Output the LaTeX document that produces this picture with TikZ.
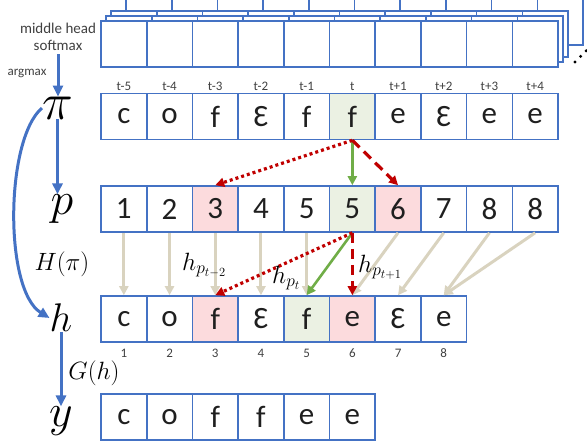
\RequirePackage{fix-cm}
\documentclass[tikz,border=0pt]{standalone}
\usepackage{amsmath}
\usepackage{fontspec}
\setmainfont{Carlito}
\usepackage{tikz}
\usetikzlibrary{arrows.meta}
\definecolor{boxblue}{HTML}{4472C4}
\definecolor{agreen}{HTML}{70AD47}
\definecolor{ared}{HTML}{C00000}
\definecolor{atan}{HTML}{D9D3BF}
\definecolor{pinkbg}{HTML}{FCDBDD}
\definecolor{greenbg}{HTML}{EBF1E3}
\definecolor{gtext}{HTML}{404040}
\definecolor{ctext}{HTML}{1F1F1F}
\tikzset{
  cell/.style={draw=boxblue, line width=1.6pt, minimum width=45.7pt, minimum height=46pt,
    inner sep=0pt, text=ctext, font=\fontsize{31}{31}\selectfont},
  cellpink/.style={cell, fill=pinkbg},
  cellgreen/.style={cell, fill=greenbg},
  layer/.style={draw=boxblue, line width=1.6pt, fill=white},
  tlab/.style={text=gtext, font=\fontsize{13}{13}\selectfont},
  note/.style={text=gtext, font=\fontsize{15}{17}\selectfont, align=center},
  sym/.style={inner sep=0pt},
  mlab/.style={inner sep=0pt, font=\fontsize{25}{25}\selectfont},
  tip/.style={-{Triangle[length=9pt,width=9pt]}},
  flow/.style={draw=boxblue, line width=3pt, -{Triangle[length=11pt,width=10pt]}},
  keep/.style={draw=agreen, line width=2.6pt, tip},
  prev/.style={draw=ared, line width=3.2pt, dash pattern=on 3pt off 3pt, tip},
  next/.style={draw=ared, line width=3.2pt, dash pattern=on 10pt off 6pt, tip},
  copy/.style={draw=atan, line width=3pt, tip},
}
\begin{document}
\begin{tikzpicture}[x=1pt,y=-1pt]
  \useasboundingbox (0,0) rectangle (587,444);
  \clip (0,0) rectangle (587,444);
  \def\w{45.7}
  \def\xo{101}

  % stacked softmax heads
  \foreach \dx/\dy in {25/-22,10/-10,5/-5}
    \foreach \i in {0,...,9}
      \draw[layer] ({\xo+\dx+\i*\w},{21+\dy}) rectangle ({\xo+\dx+(\i+1)*\w},{67+\dy});
  \foreach \i in {1,...,10}
    \node[cell, fill=white] (sm\i) at ({\xo+(\i-0.5)*\w},44) {};
  \foreach \d in {0,1,2}
    \fill ({575+5.6*\d},{62-5.6*\d}) circle (1.7pt);

  \node[note] (head) at (58,37) {middle head\\softmax};
  \node[tlab] (amax) at (27,73) {argmax};

  % rows
  \foreach \s/\st/\t [count=\i] in {c/cell/t-5, o/cell/t-4, f/cell/t-3, Ɛ/cell/t-2, f/cell/t-1,
      f/cellgreen/t, e/cell/t+1, Ɛ/cell/t+2, e/cell/t+3, e/cell/t+4} {
    \node[\st] (pi\i) at ({\xo+(\i-0.5)*\w},116.5) {\s};
    \node[tlab] at ({\xo+(\i-0.5)*\w},86) {\t};
  }
  \foreach \s/\st [count=\i] in {1/cell, 2/cell, 3/cellpink, 4/cell, 5/cell,
      5/cellgreen, 6/cellpink, 7/cell, 8/cell, 8/cell}
    \node[\st] (p\i) at ({\xo+(\i-0.5)*\w},209) {\s};
  \foreach \s/\st [count=\i] in {c/cell, o/cell, f/cellpink, Ɛ/cell, f/cellgreen,
      e/cellpink, Ɛ/cell, e/cell} {
    \node[\st] (h\i) at ({\xo+(\i-0.5)*\w},319) {\s};
    \node[tlab] at ({\xo+(\i-0.5)*\w},353) {\i};
  }
  \foreach \s [count=\i] in {c,o,f,f,e,e}
    \node[cell] (y\i) at ({\xo+(\i-0.5)*\w},417) {\s};

  % left column
  \node[sym, font=\fontsize{52}{52}\selectfont] (pisym) at (57.5,108) {$\pi$};
  \node[sym, font=\fontsize{46}{46}\selectfont] (psym) at (62,209) {$p$};
  \node[sym, font=\fontsize{40}{40}\selectfont] (hsym) at (61,318) {$h$};
  \node[sym, font=\fontsize{46}{46}\selectfont] (ysym) at (61,421) {$y$};
  \node[mlab] (hpi) at (62,264) {$H(\pi)$};
  \node[mlab] (gh) at (94,373) {$G(h)$};

  \draw[flow] (head.south) -- (head.south |- pisym.north);
  \draw[flow] (pisym.south) -- (pisym.south |- psym.north);
  \draw[flow] (pisym.west) .. controls (5,140) and (4,290) .. (hsym.west);
  \draw[flow] (hsym.south) -- (hsym.south |- ysym.north);

  % gather
  \foreach \a/\b in {1/1,2/2,3/3,4/4,5/5,7/6,8/7,9/8,10/8}
    \draw[copy] (p\a.south) -- (h\b.north);
  \draw[keep] (pi6.south) -- (p6.north);
  \draw[prev] (pi6.south) -- (p3.north);
  \draw[next] (pi6.south) -- (p7.north);
  \draw[keep] (p6.south) -- (h5.north);
  \draw[prev] (p6.south) -- (h3.north);
  \draw[next] (p6.south) -- (h6.north);

  \node[mlab, anchor=base west] at (182,270) {$h_{p_{t-2}}$};
  \node[mlab, anchor=base west] at (272,283) {$h_{p_t}$};
  \node[mlab, anchor=base west] at (358,272) {$h_{p_{t+1}}$};
\end{tikzpicture}
\end{document}
